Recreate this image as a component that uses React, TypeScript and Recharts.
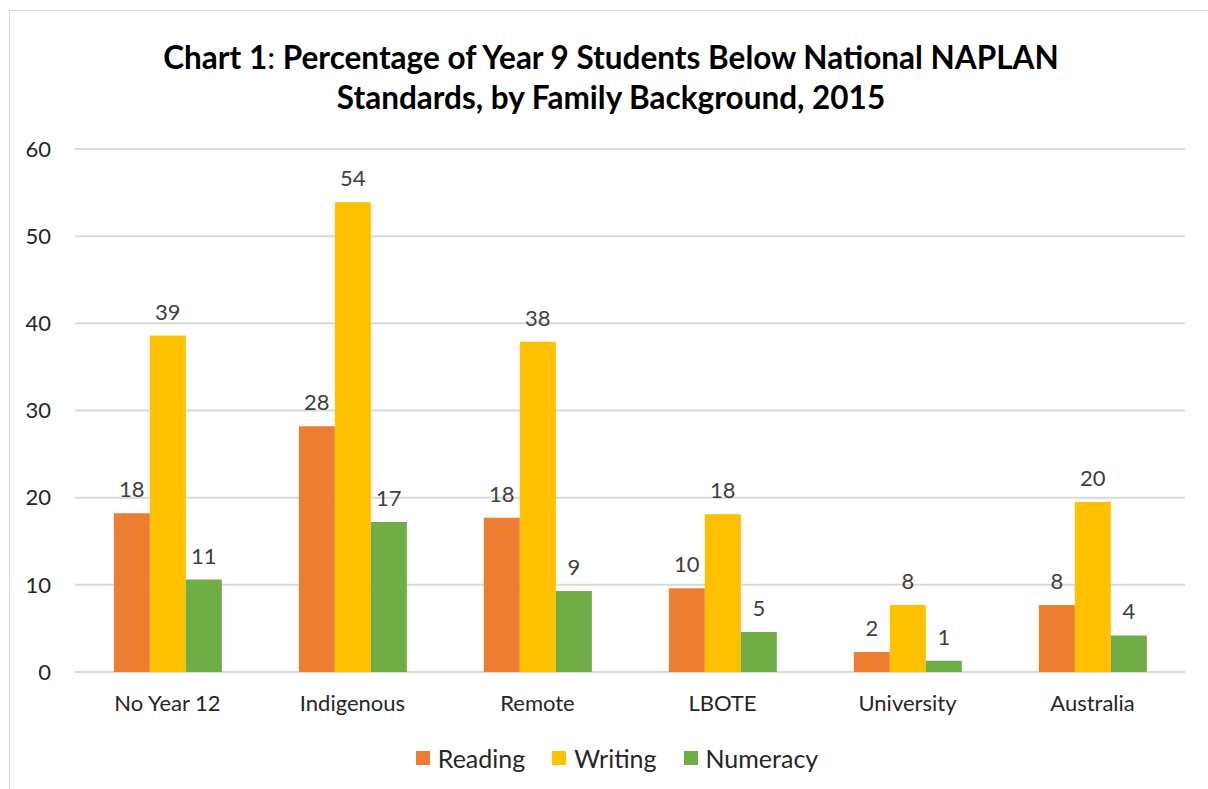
import React from 'react';
import { BarChart, Bar, XAxis, YAxis, CartesianGrid, Legend, LabelList } from 'recharts';

const categories = ['No Year 12', 'Indigenous', 'Remote', 'LBOTE', 'University', 'Australia'];
const reading = [18.2, 28.2, 17.7, 9.6, 2.3, 7.7];
const writing = [38.6, 53.9, 37.9, 18.1, 7.7, 19.5];
const numeracy = [10.6, 17.2, 9.3, 4.6, 1.3, 4.2];
const yTicks = [0, 10, 20, 30, 40, 50, 60];

const seriesNames = ['Reading', 'Writing', 'Numeracy'];
const colors = ['#ED7D31', '#FFC000', '#70AD47'];

const data = categories.map((c, i) => ({
  name: c,
  Reading: reading[i],
  Writing: writing[i],
  Numeracy: numeracy[i],
}));

const FONT = 'Lato, "Noto Sans", sans-serif';

const renderLegend = (props: any) => {
  const payload = [...(props.payload || [])].sort(
    (a: any, b: any) => seriesNames.indexOf(a.value) - seriesNames.indexOf(b.value)
  );
  return (
    <div style={{ display: 'flex', justifyContent: 'center', paddingLeft: 26, fontFamily: FONT, fontSize: 25, color: '#262626' }}>
      {payload.map((p: any, i: number) => (
        <div key={i} style={{ display: 'flex', alignItems: 'center', marginRight: i < payload.length - 1 ? 27 : 0 }}>
          <div style={{ width: 14, height: 14, background: p.color, marginRight: 8 }} />
          <span>{p.value}</span>
        </div>
      ))}
    </div>
  );
};

export default function App() {
  return (
    <div style={{ position: 'fixed', left: 0, top: 0, width: 1208, height: 789, overflow: 'hidden', background: '#fff' }}>
      <div style={{ position: 'absolute', left: 9, top: 10, width: 1300, height: 900, border: '1px solid #d9d9d9' }} />
      <div style={{ position: 'absolute', left: 0, top: 37, width: 1222, textAlign: 'center', fontFamily: FONT, fontSize: 31.5, fontWeight: 700, lineHeight: '40px', color: '#000' }}>
        <div>Chart 1<span style={{ fontWeight: 400 }}>:</span> Percentage of Year 9 Students Below National NAPLAN</div>
        <div>Standards, by Family Background, 2015</div>
      </div>
      <div style={{ position: 'absolute', left: 0, top: 0 }}>
        <BarChart width={1208} height={789} data={data} margin={{ top: 149, right: 23, left: 0, bottom: 77 }} barCategoryGap="21%" barGap={0}>
          <CartesianGrid vertical={false} stroke="#d9d9d9" strokeWidth={2} />
          <XAxis dataKey="name" height={40} axisLine={false} tickLine={false} tickMargin={17} tick={{ fill: '#262626', fontSize: 22, fontFamily: FONT }} />
          <YAxis width={75} domain={[0, 60]} ticks={yTicks} axisLine={false} tickLine={false} tickMargin={18} tick={{ fill: '#262626', fontSize: 22, fontFamily: FONT }} />
          <Legend verticalAlign="middle" align="center" wrapperStyle={{ top: 743, left: 0, width: 1208 }} content={renderLegend} />
          {seriesNames.map((s, i) => (
            <Bar key={s} dataKey={s} fill={colors[i]} isAnimationActive={false}>
              <LabelList dataKey={s} position="top" offset={16} formatter={(v: any) => Math.round(Number(v))} style={{ fill: '#404040', fontSize: 22, fontFamily: FONT }} />
            </Bar>
          ))}
        </BarChart>
      </div>
    </div>
  );
}
